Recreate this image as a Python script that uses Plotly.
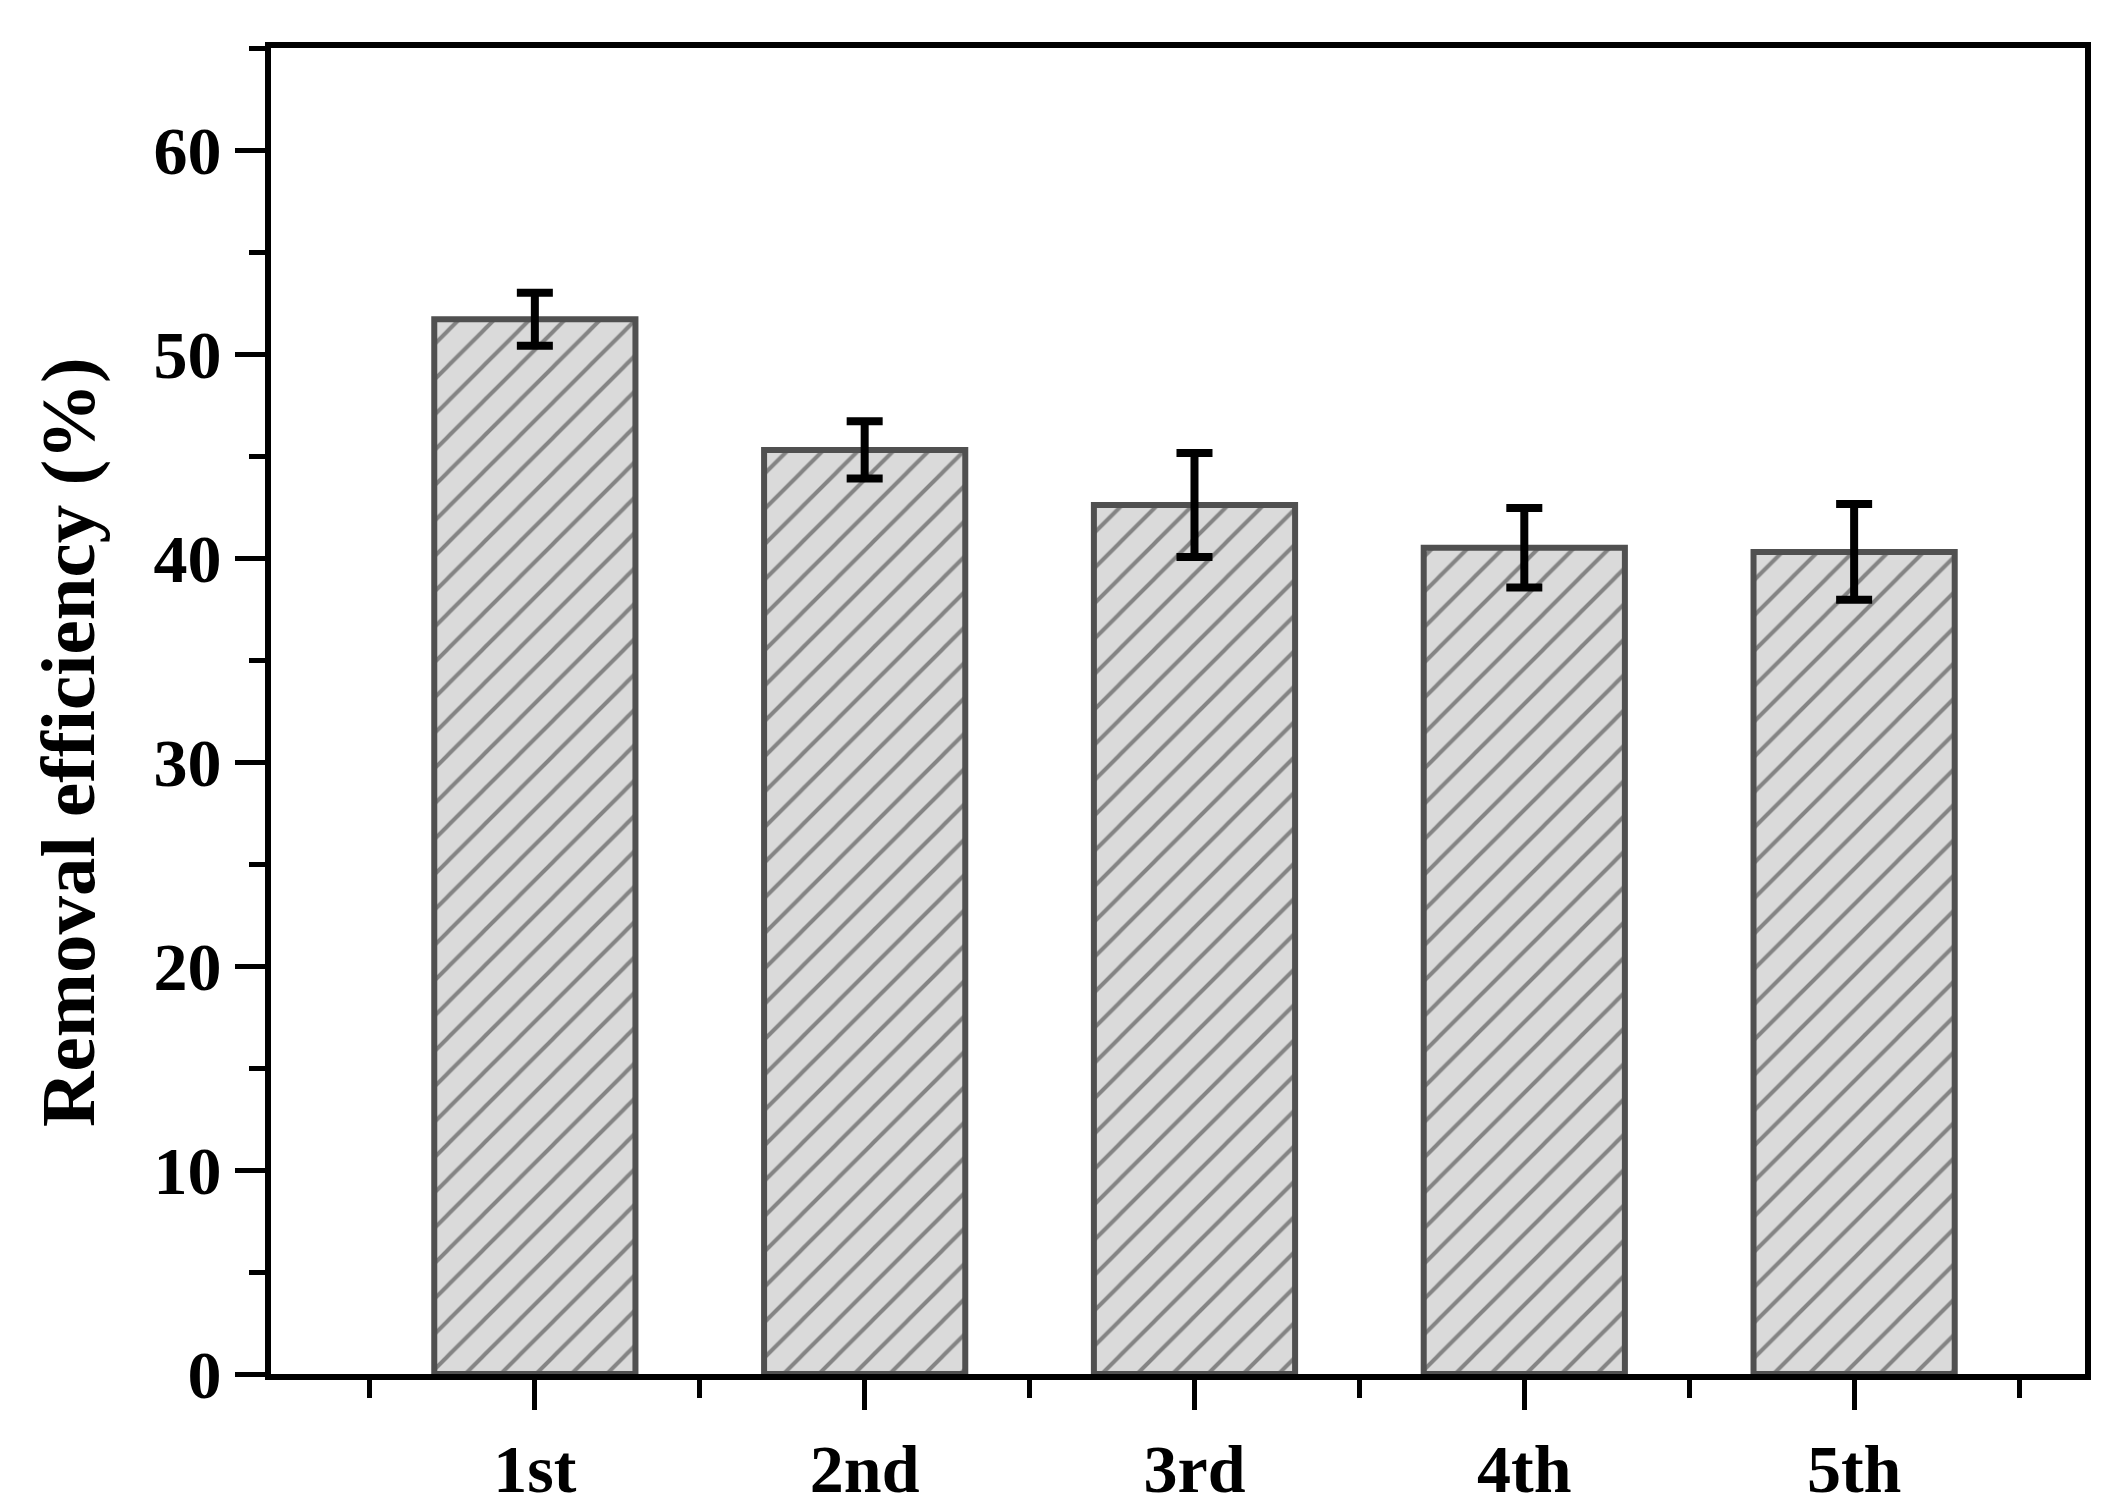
import plotly.graph_objects as go

# số liệu
cycles = ["1st", "2nd", "3rd", "4th", "5th"]
removal = [51.7, 45.3, 42.6, 40.5, 40.3]
err = [1.3, 1.4, 2.55, 1.95, 2.35]

FONT = "Liberation Serif, Times New Roman, serif"
pos = list(range(len(cycles)))

fig = go.Figure()
fig.add_trace(go.Bar(
    x=pos, y=removal, width=0.61,
    marker=dict(color="#d6d6d6",
                line=dict(color="#505050", width=6),
                pattern=dict(shape="/", fgcolor="#2e2e2e", bgcolor="#dadada",
                             size=25, solidity=0.16, fillmode="overlay")),
    error_y=dict(type="data", array=err, color="black", thickness=8, width=18),
    showlegend=False))

tickfont = dict(family=FONT, size=68, color="black", weight="bold")
fig.update_xaxes(
    range=[-0.8, 4.7], tickvals=pos, ticktext=cycles,
    showline=True, linecolor="black", linewidth=6, mirror=True,
    ticks="outside", ticklen=30, tickwidth=5, tickcolor="black",
    minor=dict(tickmode="array", tickvals=[p - 0.5 for p in pos] + [4.5],
               ticks="outside", ticklen=18, tickwidth=5, tickcolor="black"),
    showgrid=False, zeroline=False, tickfont=tickfont)
fig.update_yaxes(
    range=[0, 65], dtick=10, tick0=0,
    showline=True, linecolor="black", linewidth=6, mirror=True,
    ticks="outside", ticklen=30, tickwidth=5, tickcolor="black",
    minor=dict(dtick=5, ticks="outside", ticklen=16, tickwidth=5, tickcolor="black"),
    showgrid=False, zeroline=False, tickfont=tickfont)

# tiêu đề trục y lệch xuống một chút so với tâm vùng vẽ
fig.add_annotation(
    text="Removal efficiency (%)", textangle=-90,
    xref="paper", yref="paper", x=-0.112, y=0.4765,
    xanchor="center", yanchor="middle", showarrow=False,
    font=dict(family=FONT, size=77, color="black", weight="bold"))

fig.update_layout(
    width=2117, height=1511,
    margin=dict(l=263, r=40, t=40, b=132),
    paper_bgcolor="white", plot_bgcolor="white")

fig.write_html("out.html")
